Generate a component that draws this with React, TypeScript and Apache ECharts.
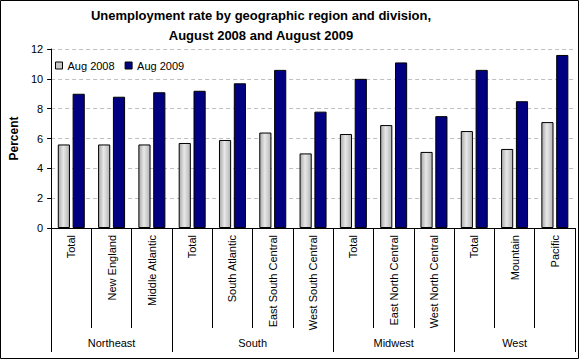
import React, { useEffect, useRef } from "react";
import * as echarts from "echarts";

const categories = [
  "Total", "New England", "Middle Atlantic",
  "Total", "South Atlantic", "East South Central", "West South Central",
  "Total", "East North Central", "West North Central",
  "Total", "Mountain", "Pacific",
];
const aug2008 = [5.6, 5.6, 5.6, 5.7, 5.9, 6.4, 5.0, 6.3, 6.9, 5.1, 6.5, 5.3, 7.1];
const aug2009 = [9.0, 8.8, 9.1, 9.2, 9.7, 10.6, 7.8, 10.0, 11.1, 7.5, 10.6, 8.5, 11.6];
const groups = ["Northeast", "South", "Midwest", "West"];
const groupStarts = [0, 3, 7, 10, 13];
const groupCenters = [1.5, 5, 8.5, 11.5];
const yTicks = [0, 2, 4, 6, 8, 10, 12];

const FONT = "Arial, 'Liberation Sans', sans-serif";

export default function App() {
  const ref = useRef<HTMLDivElement>(null);
  useEffect(() => {
    if (!ref.current) return;
    const chart = echarts.init(ref.current, null, { renderer: "svg" });
    chart.setOption({
      animation: false,
      backgroundColor: "#ffffff",
      textStyle: { fontFamily: FONT },
      title: {
        text: "Unemployment rate by geographic region and division,\nAugust 2008 and August 2009",
        left: 256,
        top: 0,
        textAlign: "center",
        textStyle: { fontSize: 13, fontWeight: "bold", color: "#000", lineHeight: 20, fontFamily: FONT },
      },
      legend: {
        left: 50,
        top: 55,
        itemWidth: 7,
        itemHeight: 7,
        itemGap: 10,
        icon: "rect",
        textStyle: { fontSize: 11, color: "#000", fontFamily: FONT },
        data: [
          { name: "Aug 2008", itemStyle: { color: "#c8c8c8", borderColor: "#000", borderWidth: 1 } },
          { name: "Aug 2009", itemStyle: { color: "#000080", borderColor: "#000", borderWidth: 1 } },
        ],
      },
      grid: { left: 42, right: 5, top: 49, bottom: 132, containLabel: false },
      xAxis: [
        {
          type: "category",
          data: categories,
          position: "bottom",
          axisLine: { show: true, lineStyle: { color: "#000", width: 1 } },
          axisTick: { show: true, interval: 0, length: 100, lineStyle: { color: "#000" } },
          axisLabel: {
            interval: 0,
            rotate: 90,
            margin: 7,
            fontSize: 11,
            color: "#000",
            fontFamily: FONT,
          },
        },
        {
          type: "value",
          min: 0,
          max: 13,
          position: "bottom",
          offset: 0,
          axisLine: { show: false },
          splitLine: { show: false },
          axisTick: {
            show: true,
            length: 124,
            customValues: groupStarts,
            lineStyle: { color: "#000" },
          },
          axisLabel: {
            show: true,
            customValues: groupCenters,
            margin: 109,
            fontSize: 11,
            color: "#000",
            fontFamily: FONT,
            formatter: (v: number) => {
              const i = groupCenters.indexOf(v);
              return i >= 0 ? groups[i] : "";
            },
          },
        },
      ],
      yAxis: {
        type: "value",
        min: 0,
        max: 12,
        interval: 2,
        name: "Percent",
        nameLocation: "middle",
        nameGap: 26,
        nameTextStyle: { fontSize: 12, fontWeight: "bold", color: "#000", fontFamily: FONT },
        axisLine: { show: true, lineStyle: { color: "#000" } },
        axisTick: { show: true, length: 4, lineStyle: { color: "#000" } },
        axisLabel: {
          margin: 8,
          fontSize: 11,
          color: "#000",
          fontFamily: FONT,
          formatter: (v: number) => (yTicks.includes(v) ? String(v) : ""),
        },
        splitLine: { show: true, lineStyle: { color: "#c0c0c0", type: [4, 3], width: 1 } },
      },
      series: [
        {
          name: "Aug 2008",
          type: "bar",
          xAxisIndex: 0,
          data: aug2008,
          barGap: "22%",
          barCategoryGap: "33%",
          itemStyle: {
            color: new echarts.graphic.LinearGradient(0, 0, 1, 0, [
              { offset: 0, color: "#a8a8a8" },
              { offset: 0.45, color: "#e8e8e8" },
              { offset: 1, color: "#b4b4b4" },
            ]),
            borderColor: "#000",
            borderWidth: 1,
          },
        },
        {
          name: "Aug 2009",
          type: "bar",
          xAxisIndex: 0,
          data: aug2009,
          barGap: "22%",
          barCategoryGap: "33%",
          itemStyle: { color: "#000080", borderColor: "#000", borderWidth: 1 },
        },
      ],
      graphic: [
        {
          type: "rect",
          shape: { x: 0.5, y: 0.5, width: 578, height: 358 },
          style: { fill: "none", stroke: "#000", lineWidth: 1 },
          silent: true,
          z: 100,
        },
      ],
    });
    return () => chart.dispose();
  }, []);
  return (
    <div
      ref={ref}
      style={{ position: "fixed", left: 0, top: 0, width: 580, height: 360 }}
    />
  );
}
